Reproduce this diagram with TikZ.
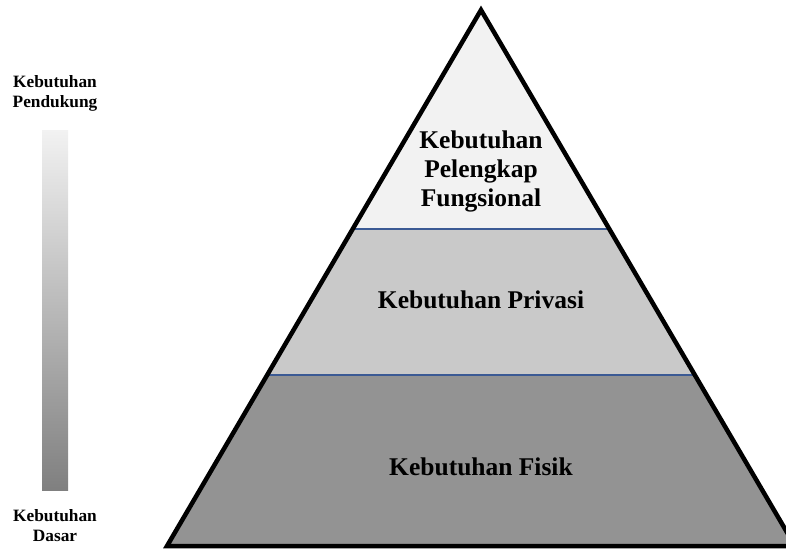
\documentclass[tikz,border=0pt]{standalone}
\usepackage{fontspec}
\setmainfont{Liberation Serif}
\begin{document}
\begin{tikzpicture}[x=1pt,y=-1pt,
  lbl/.style={font=\bfseries\fontsize{25.5}{29}\selectfont, align=center, inner sep=0pt},
  side/.style={font=\bfseries\fontsize{17.3}{20}\selectfont, align=center, inner sep=0pt},
  outline/.style={draw=black, line width=4.5pt, line join=miter}]
\useasboundingbox (0,0) rectangle (786,550);
\definecolor{topc}{HTML}{F2F2F2}
\definecolor{midc}{HTML}{C9C9C9}
\definecolor{botc}{HTML}{939393}
\definecolor{linec}{HTML}{3B5A94}
\coordinate (apex) at (481,10);
\coordinate (bl) at (167,546);
\coordinate (br) at (795,546);
\coordinate (l1) at (352.7,229);
\coordinate (r1) at (609.3,229);
\coordinate (l2) at (267.2,375);
\coordinate (r2) at (694.8,375);
\fill[topc] (apex) -- (l1) -- (r1) -- cycle;
\fill[midc] (l1) -- (r1) -- (r2) -- (l2) -- cycle;
\fill[botc] (l2) -- (r2) -- (br) -- (bl) -- cycle;
\draw[draw=linec, line width=1.6pt] (l1) -- (r1);
\draw[draw=linec, line width=1.6pt] (l2) -- (r2);
\draw[outline] (apex) -- (br) -- (bl) -- cycle;
\node[lbl] (t1) at (481,171) {Kebutuhan\\Pelengkap\\Fungsional};
\node[lbl] (t2) at (481,300) {Kebutuhan Privasi};
\node[lbl] (t3) at (481,467) {Kebutuhan Fisik};
\shade[top color=topc, bottom color=black!50] (42,130) rectangle (68,490);
\node[side] (s1) at (55,93) {Kebutuhan\\Pendukung};
\node[side] (s2) at (55,526) {Kebutuhan\\Dasar};
\end{tikzpicture}
\end{document}
